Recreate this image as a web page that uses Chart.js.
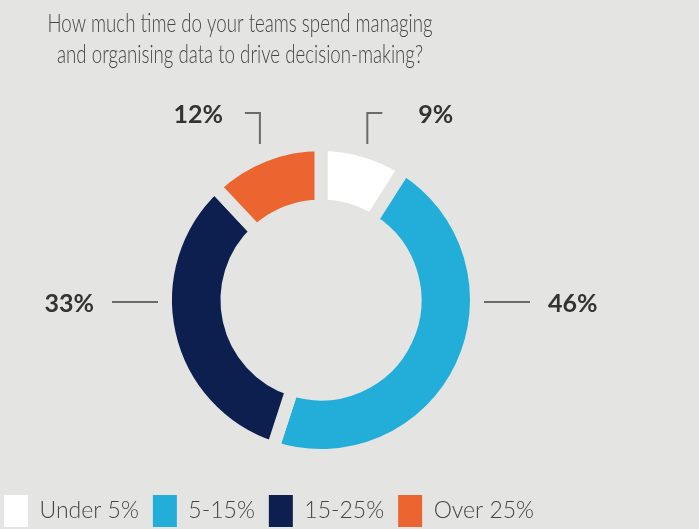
<!DOCTYPE html>
<html>
<head>
<meta charset="utf-8">
<script src="https://cdn.jsdelivr.net/npm/chart.js@4.4.0/dist/chart.umd.min.js"></script>
<style>
	html, body { margin: 0; padding: 0; background: #e4e4e2; }
	#wrap { width: 699px; height: 529px; }
</style>
</head>
<body>
<div id="wrap"><canvas id="mycanvas"></canvas></div>
<script>
var titleLines = ["How much time do your teams spend managing", "and organising data to drive decision-making?"];
var categories = ["Under 5%", "5-15%", "15-25%", "Over 25%"];
var shares = [9, 46, 33, 12];
var colours = ["#ffffff", "#22aed8", "#0d1f4f", "#ec6531"];
var bg = "#e4e4e2";
var gap = 13;

// question text above the ring (squeezed to the width of the original narrow face)
var questionTitle = {
	id: "questionTitle",
	afterDraw: function(chart) {
		var ctx = chart.ctx;
		ctx.save();
		ctx.font = "300 26px Lato";
		ctx.fillStyle = "#454545";
		ctx.textAlign = "center";
		ctx.textBaseline = "alphabetic";
		var sx = 385 / ctx.measureText(titleLines[0]).width;
		ctx.translate(240, 0);
		ctx.scale(sx, 1);
		ctx.fillText(titleLines[0], 0, 32);
		ctx.fillText(titleLines[1], 0, 63);
		ctx.restore();
	}
};

// percent labels with leader lines
var sliceLabels = {
	id: "sliceLabels",
	afterDatasetsDraw: function(chart) {
		var ctx = chart.ctx;
		var arcs = chart.getDatasetMeta(0).data;
		ctx.save();
		ctx.strokeStyle = "#6a6a6a";
		ctx.lineWidth = 2;
		ctx.fillStyle = "#333333";
		ctx.font = "bold 25px Lato";
		ctx.textBaseline = "alphabetic";
		for (var i = 0; i < arcs.length; i++) {
			var a = arcs[i];
			var R = a.outerRadius - gap / 2;
			var mid = (a.startAngle + a.endAngle) / 2;
			var c = Math.cos(mid);
			var dir = c >= 0 ? 1 : -1;
			var text = shares[i] + "%";
			ctx.beginPath();
			if (Math.abs(c) > 0.75) {
				var y = a.y + 2;
				ctx.moveTo(a.x + dir * (R + 14), y);
				ctx.lineTo(a.x + dir * (R + 60), y);
				ctx.stroke();
				ctx.textAlign = dir > 0 ? "left" : "right";
				ctx.fillText(text, a.x + dir * (R + 78), y + 10);
			} else {
				var x = a.x + (R + 17) * c;
				var y0 = a.y - R - 7;
				var y1 = a.y - R - 38;
				ctx.moveTo(x, y0);
				ctx.lineTo(x, y1);
				ctx.lineTo(x + dir * 15, y1);
				ctx.stroke();
				ctx.textAlign = dir > 0 ? "left" : "right";
				ctx.fillText(text, x + dir * (dir > 0 ? 51 : 37), y1 + 10);
			}
		}
		ctx.restore();
	}
};

var ctx = document.getElementById("mycanvas");

var DonutChart = new Chart(ctx, {
	type: "doughnut",
	data: {
		labels: categories,
		datasets: [
			{
				data: shares,
				backgroundColor: colours,
				borderColor: bg,
				borderWidth: gap,
				hoverOffset: 0
			}
		]
	},
	options: {
		responsive: true,
		maintainAspectRatio: false,
		animation: false,
		radius: 149 + gap / 2,
		cutout: 112 - gap / 2,
		layout: {
			padding: { left: -10, right: 57, top: 119, bottom: -8 }
		},
		plugins: {
			title: { display: false },
			tooltip: { enabled: false },
			legend: {
				position: "bottom",
				align: "start",
				labels: {
					boxWidth: 24,
					boxHeight: 32,
					padding: 14,
					color: "#454545",
					font: { family: "Lato", size: 23, weight: "300" },
					generateLabels: function(chart) {
						var items = Chart.overrides.doughnut.plugins.legend.labels.generateLabels(chart);
						items.forEach(function(it) { it.lineWidth = 0; });
						return items;
					}
				}
			}
		}
	},
	plugins: [questionTitle, sliceLabels]
});
</script>
</body>
</html>
